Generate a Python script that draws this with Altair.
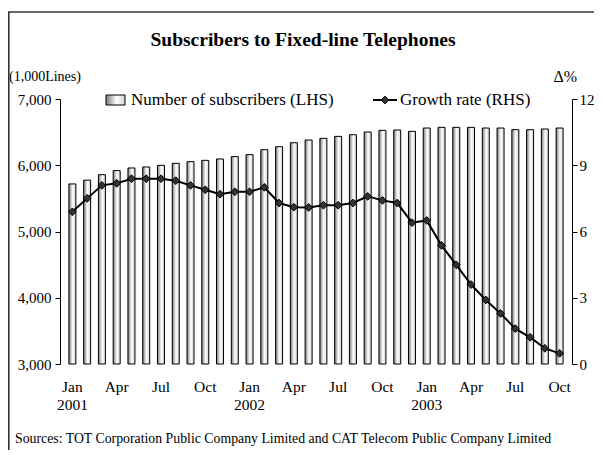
import altair as alt
import pandas as pd

# ---------------- data ----------------
month_names = ["Jan", "Feb", "Mar", "Apr", "May", "Jun", "Jul", "Aug", "Sep", "Oct", "Nov", "Dec"]
periods = [f"{month_names[i % 12]} {2001 + i // 12}" for i in range(34)]

subscribers = [5718, 5775, 5858, 5919, 5959, 5974, 5999, 6029, 6054, 6074, 6095, 6130,
               6160, 6235, 6280, 6340, 6381, 6406, 6436, 6461, 6502, 6527, 6532, 6512,
               6562, 6572, 6572, 6572, 6562, 6562, 6537, 6537, 6547, 6562]

growth = [6.89, 7.50, 8.09, 8.18, 8.39, 8.39, 8.39, 8.30, 8.09, 7.89, 7.69, 7.80,
          7.80, 8.00, 7.29, 7.10, 7.09, 7.19, 7.19, 7.29, 7.59, 7.41, 7.29, 6.40,
          6.50, 5.37, 4.49, 3.60, 2.90, 2.29, 1.60, 1.21, 0.71, 0.48]

month_tick_idx = [0, 3, 6, 9, 12, 15, 18, 21, 24, 27, 30, 33]
month_tick_labels = ["Jan", "Apr", "Jul", "Oct", "Jan", "Apr", "Jul", "Oct", "Jan", "Apr", "Jul", "Oct"]
year_idx = [0, 12, 24]
year_labels = ["2001", "2002", "2003"]

left_ticks = [3000, 4000, 5000, 6000, 7000]
right_ticks = [0, 3, 6, 9, 12]

df = pd.DataFrame({"idx": list(range(34)), "period": periods,
                   "subscribers": subscribers, "growth": growth})
mdf = pd.DataFrame({"idx": month_tick_idx, "label": month_tick_labels})
ydf = pd.DataFrame({"idx": year_idx, "label": year_labels})
one = pd.DataFrame({"a": [0]})

FONT = "Liberation Serif"
xscale = alt.Scale(domain=[-0.5, 33.5], nice=False, zero=False)

grad = alt.Gradient(
    gradient="linear",
    stops=[alt.GradientStop(color="#7a7a7a", offset=0),
           alt.GradientStop(color="#ffffff", offset=0.55),
           alt.GradientStop(color="#d0d0d0", offset=1)],
    x1=0, x2=1, y1=0, y2=0,
)

axis_style = dict(labelFont=FONT, labelFontSize=15, labelColor="black",
                  tickColor="black", domainColor="black", tickSize=5,
                  grid=False, title=None)

bars = alt.Chart(df).mark_bar(size=7, fill=grad, stroke="black", strokeWidth=1).encode(
    x=alt.X("idx:Q", scale=xscale,
            axis=alt.Axis(values=[i - 0.5 for i in range(35)], labels=False,
                          tickColor="black", domainColor="black", tickSize=4,
                          grid=False, title=None)),
    y=alt.Y("subscribers:Q", scale=alt.Scale(domain=[3000, 7000], zero=False, nice=False),
            axis=alt.Axis(values=left_ticks, format=",.0f", labelPadding=4, **axis_style)),
    y2=alt.datum(3000),
    tooltip=["period:N", "subscribers:Q"],
)

line = alt.Chart(df).mark_line(
    color="black", strokeWidth=2,
    point=alt.OverlayMarkDef(shape="diamond", size=60, filled=True,
                             fill="#333333", stroke="black", strokeWidth=1),
).encode(
    x=alt.X("idx:Q", scale=xscale, axis=None),
    y=alt.Y("growth:Q", scale=alt.Scale(domain=[0, 12], nice=False, zero=True),
            axis=alt.Axis(orient="right", values=right_ticks, labelPadding=2, **axis_style)),
)

month_text = alt.Chart(mdf).mark_text(font=FONT, fontSize=15.5, color="black", baseline="middle").encode(
    x=alt.X("idx:Q", scale=xscale, axis=None), y=alt.value(288), text="label:N")
year_text = alt.Chart(ydf).mark_text(font=FONT, fontSize=15.5, color="black", baseline="middle").encode(
    x=alt.X("idx:Q", scale=xscale, axis=None), y=alt.value(306), text="label:N")

# ---------------- decorations (title, units, legend, source, frame) ----------------
base = alt.Chart(one)
title = base.mark_text(text="Subscribers to Fixed-line Telephones", font=FONT, fontSize=19.5,
                       fontWeight="bold", color="black", align="center", baseline="middle").encode(
    x=alt.value(243), y=alt.value(-59))
unit_left = base.mark_text(text="(1,000Lines)", font=FONT, fontSize=14, color="black",
                           align="left", baseline="middle").encode(x=alt.value(-51), y=alt.value(-22))
unit_right = base.mark_text(text="Δ%", font=FONT, fontSize=16, color="black",
                            align="right", baseline="middle").encode(x=alt.value(517), y=alt.value(-22))

leg_rect = base.mark_rect(fill=grad, stroke="black", strokeWidth=1).encode(
    x=alt.value(46), x2=alt.value(65), y=alt.value(-4), y2=alt.value(6))
leg_text1 = base.mark_text(text="Number of subscribers (LHS)", font=FONT, fontSize=17, color="black",
                           align="left", baseline="middle").encode(x=alt.value(71), y=alt.value(1))
leg_line = base.mark_rule(color="black", strokeWidth=2).encode(
    x=alt.value(313), x2=alt.value(337), y=alt.value(1))
leg_pt = base.mark_point(shape="diamond", size=60, filled=True, fill="#333333", stroke="black",
                         strokeWidth=1, opacity=1).encode(x=alt.value(325), y=alt.value(1))
leg_text2 = base.mark_text(text="Growth rate (RHS)", font=FONT, fontSize=17, color="black",
                           align="left", baseline="middle").encode(x=alt.value(340), y=alt.value(1))

source = base.mark_text(
    text="Sources: TOT Corporation Public Company Limited and CAT Telecom Public Company Limited",
    font=FONT, fontSize=13.8, color="black", align="left", baseline="middle").encode(
    x=alt.value(-45), y=alt.value(340))

frame_top = base.mark_rule(color="#333333", strokeWidth=1.6).encode(
    x=alt.value(-52), x2=alt.value(600), y=alt.value(-87))
frame_left = base.mark_rule(color="#333333", strokeWidth=1.6).encode(
    x=alt.value(-51.2), y=alt.value(-87), y2=alt.value(400))

chart = alt.layer(
    bars, line, month_text, year_text,
    title, unit_left, unit_right,
    leg_rect, leg_text1, leg_line, leg_pt, leg_text2,
    source, frame_top, frame_left,
).resolve_scale(y="independent").properties(
    width=512, height=265,
    autosize=alt.AutoSizeParams(type="none"),
    padding={"left": 52, "top": 91, "right": 22, "bottom": 86},
    background="white",
).configure_view(stroke=None)

chart.save("out.html", embed_options={"renderer": "svg", "actions": False})
